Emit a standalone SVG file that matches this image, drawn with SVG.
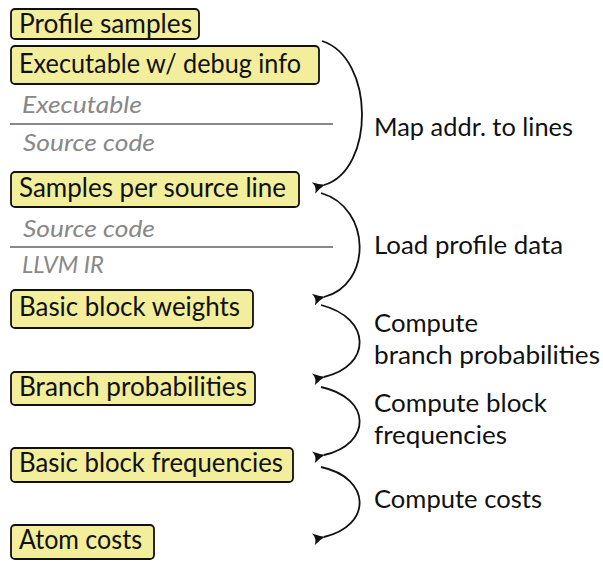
<svg xmlns="http://www.w3.org/2000/svg" width="603" height="561" viewBox="0 0 603 561">
<defs>
<style>
.box{fill:#f2ee9c;stroke:#111;stroke-width:1.8}
.t{font-family:Lato,"Open Sans",sans-serif;font-size:26px;fill:#111}
.g{font-family:Lato,"Open Sans",sans-serif;font-size:24px;font-style:italic;fill:#888}
.l{font-family:Lato,"Open Sans",sans-serif;font-size:25px;fill:#111}
.sep{stroke:#888;stroke-width:1.8}
.c{fill:none;stroke:#111;stroke-width:1.8;marker-end:url(#ah)}
</style>
<marker id="ah" markerWidth="14" markerHeight="12" refX="2" refY="6" orient="auto" markerUnits="userSpaceOnUse">
<path d="M1,6 Q7,4 13,0 Q9,6 13,12 Q7,8 1,6 Z" fill="#111"/>
</marker>
</defs>
<g id="n1"><rect class="box" x="11" y="9" width="188" height="30" rx="4"/><text class="t" x="19" y="33" textLength="173" lengthAdjust="spacingAndGlyphs">Profile samples</text></g>
<g id="n2"><rect class="box" x="11" y="46" width="308" height="38" rx="4"/><text class="t" x="19" y="73" textLength="282" lengthAdjust="spacingAndGlyphs">Executable w/ debug info</text></g>
<g id="s1"><text class="g" x="22" y="113" textLength="120" lengthAdjust="spacingAndGlyphs">Executable</text><line class="sep" x1="10" y1="124" x2="333" y2="124"/><text class="g" x="23" y="151" textLength="132" lengthAdjust="spacingAndGlyphs">Source code</text></g>
<g id="n3"><rect class="box" x="11" y="172" width="288" height="35" rx="4"/><text class="t" x="19" y="197" textLength="267" lengthAdjust="spacingAndGlyphs">Samples per source line</text></g>
<g id="s2"><text class="g" x="23" y="237" textLength="132" lengthAdjust="spacingAndGlyphs">Source code</text><line class="sep" x1="10" y1="247" x2="333" y2="247"/><text class="g" x="22" y="273" textLength="82" lengthAdjust="spacingAndGlyphs">LLVM IR</text></g>
<g id="n4"><rect class="box" x="11" y="290" width="242" height="38" rx="4"/><text class="t" x="19" y="316" textLength="221" lengthAdjust="spacingAndGlyphs">Basic block weights</text></g>
<g id="n5"><rect class="box" x="11" y="372" width="244" height="33" rx="4"/><text class="t" x="19" y="396" textLength="228" lengthAdjust="spacingAndGlyphs">Branch probabilities</text></g>
<g id="n6"><rect class="box" x="11" y="448" width="282" height="34" rx="4"/><text class="t" x="19" y="472" textLength="264" lengthAdjust="spacingAndGlyphs">Basic block frequencies</text></g>
<g id="n7"><rect class="box" x="11" y="525" width="143" height="34" rx="4"/><text class="t" x="19" y="549" textLength="123" lengthAdjust="spacingAndGlyphs">Atom costs</text></g>
<g id="connectors">
<path class="c" d="M322,41 C375,58 375,170 324,185"/>
<path class="c" d="M321,193 C372,208 372,285 324,297"/>
<path class="c" d="M321,305 C372,318 372,366 324,377"/>
<path class="c" d="M321,387 C372,398 372,444 324,455"/>
<path class="c" d="M321,467 C372,478 372,526 324,537"/>
</g>
<g id="labels">
<text class="l" x="374" y="136" textLength="199" lengthAdjust="spacingAndGlyphs">Map addr. to lines</text>
<text class="l" x="374" y="254" textLength="189" lengthAdjust="spacingAndGlyphs">Load profile data</text>
<text class="l" x="374" y="332" textLength="104" lengthAdjust="spacingAndGlyphs">Compute</text>
<text class="l" x="374" y="364" textLength="226" lengthAdjust="spacingAndGlyphs">branch probabilities</text>
<text class="l" x="374" y="412" textLength="173" lengthAdjust="spacingAndGlyphs">Compute block</text>
<text class="l" x="374" y="444" textLength="133" lengthAdjust="spacingAndGlyphs">frequencies</text>
<text class="l" x="374" y="508" textLength="168" lengthAdjust="spacingAndGlyphs">Compute costs</text>
</g>
</svg>
